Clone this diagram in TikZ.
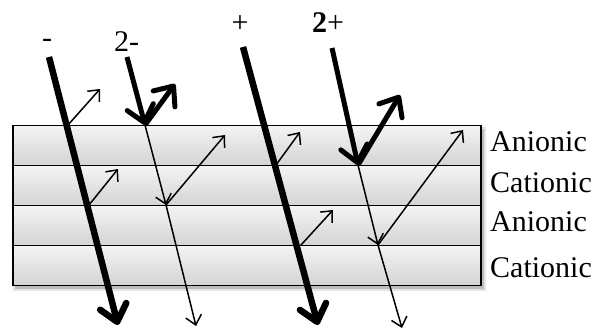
\documentclass[tikz,border=0pt]{standalone}
\usepackage{fontspec}
\setmainfont{Liberation Serif}
\usetikzlibrary{arrows.meta}
\begin{document}
\begin{tikzpicture}[x=1pt,y=-1pt,
  lbl/.style={font=\fontsize{30}{36}\selectfont, inner sep=0pt},
  layer/.style={draw=black, line width=1.5pt, top color=gray!9, bottom color=gray!34},
  thinarr/.style={line width=1.5pt, -{Straight Barb[length=9pt,width=16pt,line width=1.5pt]}},
  thickarr/.style={line width=#1, -{Straight Barb[length=16pt,width=27pt,line width=#1,round]}},
  thickarr/.default=6.5pt
]
\useasboundingbox (0,0) rectangle (598,331);
% shadow
\fill[black, opacity=0.18] (15,129) rectangle (484,289);
\fill[black, opacity=0.10] (13,127) rectangle (486,291);
% layers
\node[layer, minimum width=468pt, minimum height=40pt, inner sep=0pt, anchor=north west] (L1) at (12,125) {};
\node[layer, minimum width=468pt, minimum height=40pt, inner sep=0pt, anchor=north west] (L2) at (12,165) {};
\node[layer, minimum width=468pt, minimum height=40pt, inner sep=0pt, anchor=north west] (L3) at (12,205) {};
\node[layer, minimum width=468pt, minimum height=40pt, inner sep=0pt, anchor=north west] (L4) at (12,245) {};
% layer labels
\node[lbl, anchor=base west] (t1) at (490,152) {Anionic};
\node[lbl, anchor=base west] (t2) at (490,193) {Cationic};
\node[lbl, anchor=base west] (t3) at (490,232) {Anionic};
\node[lbl, anchor=base west] (t4) at (490,278) {Cationic};
% charge labels
\node[lbl, anchor=base] (qm) at (47,48) {-};
\node[lbl, anchor=base west] (q2m) at (114,52) {2-};
\node[lbl, anchor=base] (qp) at (240,33) {+};
\node[lbl, anchor=base west] (q2p) at (312,33) {\textbf{2}+};
% coordinates
\coordinate (m0) at (49,57);
\coordinate (m1) at (68,125);
\coordinate (m2) at (89,205);
\coordinate (m3) at (118,325);
\coordinate (mr1) at (100,89);
\coordinate (mr2) at (118,169);
\coordinate (a0) at (127,57);
\coordinate (a1) at (145,125);
\coordinate (a1r) at (175,84);
\coordinate (a2) at (166,205);
\coordinate (a2r) at (225,135);
\coordinate (a3) at (196,326);
\coordinate (p0) at (243,47);
\coordinate (p1) at (276,165);
\coordinate (p2) at (301,245);
\coordinate (p3) at (318,325);
\coordinate (pr1) at (300,132);
\coordinate (pr2) at (333,210);
\coordinate (b0) at (332,48);
\coordinate (b1) at (358,165);
\coordinate (b1r) at (400,95);
\coordinate (b2) at (378,245);
\coordinate (b2r) at (463,130);
\coordinate (b3) at (402,328);
% thin reflected arrows
\draw[thinarr] (m1) -- (mr1);
\draw[thinarr] (m2) -- (mr2);
\draw[thinarr] (p1) -- (pr1);
\draw[thinarr] (p2) -- (pr2);
\draw[thinarr] (a2) -- (a2r);
\draw[thinarr] (b2) -- (b2r);
% thin transmitted arrows
\draw[thinarr] (a1) -- (a2);
\draw[thinarr] (a2) -- (a3);
\draw[thinarr] (b1) -- (b2);
\draw[thinarr] (b2) -- (b3);
% thick arrows
\draw[thickarr] (m0) -- (m3);
\draw[thickarr] (p0) -- (p3);
\draw[thickarr=5pt] (a0) -- (a1);
\draw[thickarr=5pt] (a1) -- (a1r);
\draw[thickarr=5pt] (b0) -- (b1);
\draw[thickarr=5pt] (b1) -- (b1r);
\end{tikzpicture}
\end{document}
